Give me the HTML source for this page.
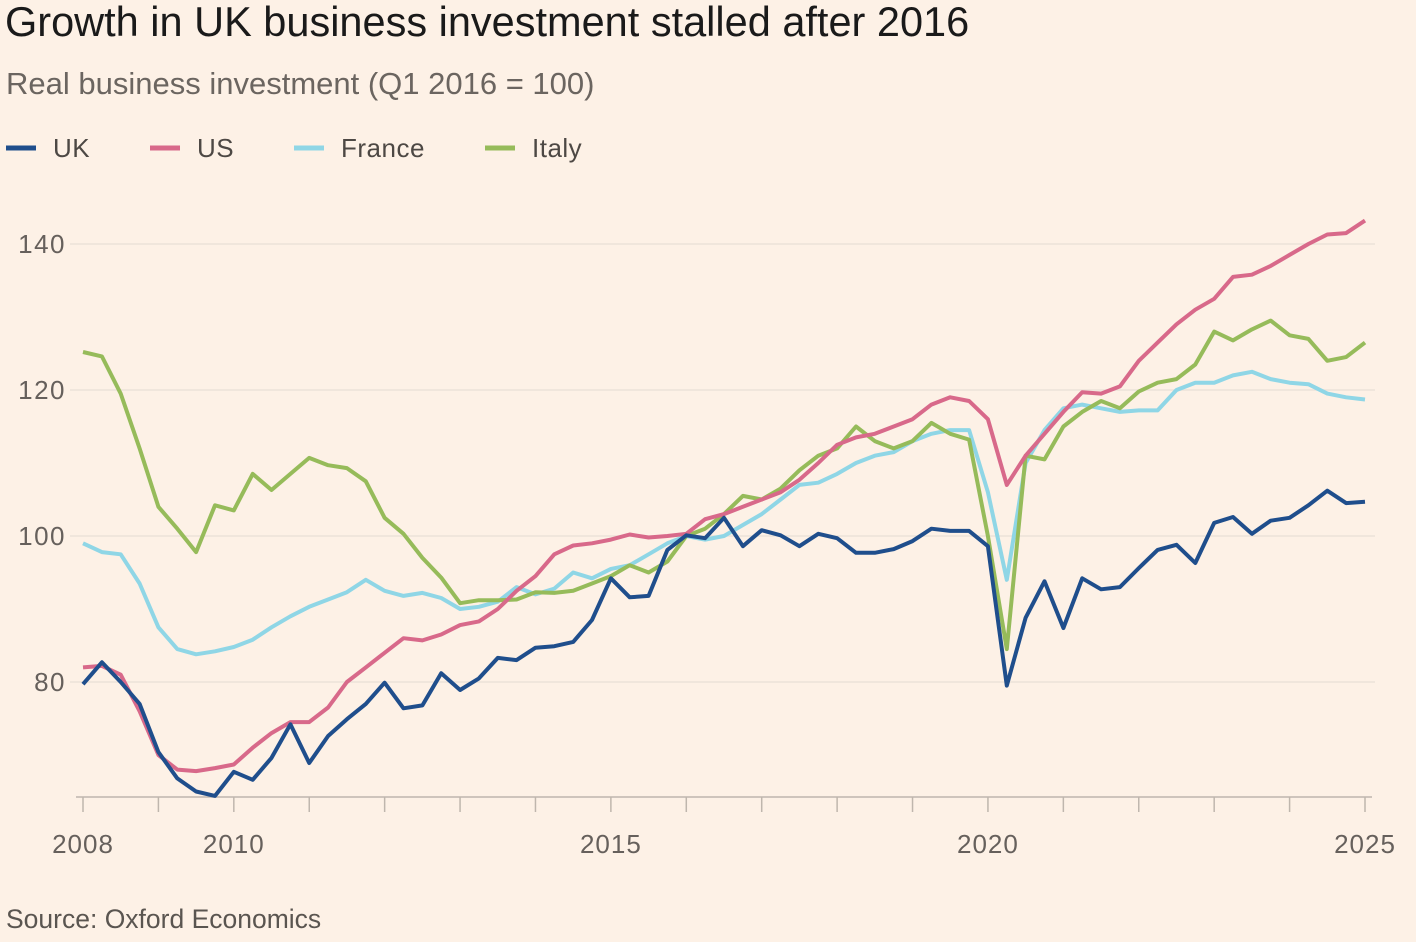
<!DOCTYPE html>
<html><head><meta charset="utf-8">
<style>
html,body{margin:0;padding:0;background:#fdf1e6;}
body{width:1416px;height:942px;overflow:hidden;font-family:"Liberation Sans",sans-serif;position:relative;}
.t{position:absolute;left:5px;top:-2px;font-size:41.5px;color:#1a1a1a;white-space:nowrap;}
.s{position:absolute;left:6px;top:66px;font-size:31px;color:#6b6560;white-space:nowrap;}
.src{position:absolute;left:6px;top:904px;font-size:26.5px;color:#5a5550;}
svg{position:absolute;left:0;top:0;}
</style></head><body>
<div class="t">Growth in UK business investment stalled after 2016</div>
<div class="s">Real business investment (Q1 2016 = 100)</div>
<div class="src">Source: Oxford Economics</div>
<svg id="chart" width="1416" height="942"></svg>
<script>
const years=[2008,2010,2015,2020,2025];
const yTicks=[80,100,120,140];
const seriesNames=["UK","US","France","Italy"];
const seriesColors=["#1f4e8c","#d8698a","#8fd6e6","#96bb5a"];
const uk=[79.7,82.7,80,77,70.4,66.8,65,64.4,67.7,66.6,69.6,74.2,68.9,72.6,74.9,77,79.9,76.4,76.8,81.2,78.9,80.5,83.3,83,84.7,84.9,85.5,88.5,94.2,91.6,91.8,98.1,100.1,99.7,102.5,98.6,100.8,100.1,98.6,100.3,99.7,97.7,97.7,98.2,99.3,101,100.7,100.7,98.6,79.5,88.8,93.8,87.4,94.2,92.7,93,95.6,98.1,98.8,96.3,101.8,102.6,100.3,102.1,102.5,104.2,106.2,104.5,104.7];
const us=[82,82.2,81,76,70,68,67.8,68.2,68.7,71,73,74.5,74.5,76.5,80,82,84,86,85.7,86.5,87.8,88.3,90,92.5,94.5,97.5,98.7,99,99.5,100.2,99.8,100,100.3,102.3,103,104,105,106,107.7,110,112.5,113.5,114,115,116,118,119,118.5,116,107,111,114,117,119.7,119.5,120.5,124,126.5,129,131,132.5,135.5,135.8,137,138.5,140,141.3,141.5,143.2];
const france=[99,97.8,97.5,93.5,87.5,84.5,83.8,84.2,84.8,85.8,87.5,89,90.3,91.3,92.3,94,92.5,91.8,92.2,91.5,90,90.3,91,93,92,92.8,95,94.2,95.5,96,97.5,99,100,99.5,100,101.5,103,105,107,107.3,108.5,110,111,111.5,113,114,114.5,114.5,106,94,110,114.5,117.5,118,117.5,117,117.2,117.2,120,121,121,122,122.5,121.5,121,120.8,119.5,119,118.7];
const italy=[125.2,124.6,119.5,112,104,101,97.8,104.2,103.5,108.5,106.3,108.5,110.7,109.7,109.3,107.5,102.5,100.3,97,94.3,90.8,91.2,91.2,91.3,92.3,92.2,92.5,93.5,94.5,96,95,96.5,100,101,103,105.5,105,106.5,109,111,112,115,113,112,113,115.5,114,113.2,100,84.5,111,110.5,115,117,118.5,117.5,119.8,121,121.5,123.5,128,126.8,128.3,129.5,127.5,127,124,124.5,126.5];
const allSeries=[uk,us,france,italy];
const NS="http://www.w3.org/2000/svg";
const svg=document.getElementById('chart');
const x=t=>83+(t-2008)*(1365-83)/17;
const y=v=>536-(v-100)*7.3;
function mk(tag,attrs,parent){const e=document.createElementNS(NS,tag);for(const k in attrs)e.setAttribute(k,attrs[k]);(parent||svg).appendChild(e);return e;}
yTicks.forEach(v=>{
  const g=mk('line',{x1:70,x2:1375,y1:y(v),y2:y(v),stroke:'#ece2d8','stroke-width':1.5});
  
  
  const t=mk('text',{x:66,y:y(v)+9,'text-anchor':'end','font-size':26,'letter-spacing':1.5,fill:'#66605c','font-family':'Liberation Sans'});
  t.textContent=v;
  
  
});
const ax=mk('line',{x1:76,x2:1372,y1:797,y2:797,stroke:'#bfb6ad','stroke-width':1.5});


for(let yr=2008;yr<=2025;yr++){
  const tk=mk('line',{x1:x(yr),x2:x(yr),y1:797,y2:812,stroke:'#bfb6ad','stroke-width':1.5});
  
  
}
years.forEach(yr=>{
  const t=mk('text',{x:x(yr),y:853,'text-anchor':'middle','font-size':26,'letter-spacing':1,fill:'#66605c','font-family':'Liberation Sans'});
  t.textContent=yr;
  
  
});
const order=[2,3,1,0];
order.forEach(i=>{
  const d=allSeries[i].map((v,k)=>(k?'L':'M')+x(2008+k/4).toFixed(1)+','+y(v).toFixed(1)).join(' ');
  const p=mk('path',{d:d,fill:'none',stroke:seriesColors[i],'stroke-width':4,'stroke-linejoin':'round'});
  
  
});
const lx=[6,150,294,485];
seriesNames.forEach((n,i)=>{
  const l=mk('line',{x1:lx[i],x2:lx[i]+30,y1:148,y2:148,stroke:seriesColors[i],'stroke-width':5});
  
  
  const t=mk('text',{x:lx[i]+47,y:157,'font-size':26,'letter-spacing':0.5,fill:'#4d4844','font-family':'Liberation Sans'});
  t.textContent=n;
  
  
});
</script>
</body></html>
